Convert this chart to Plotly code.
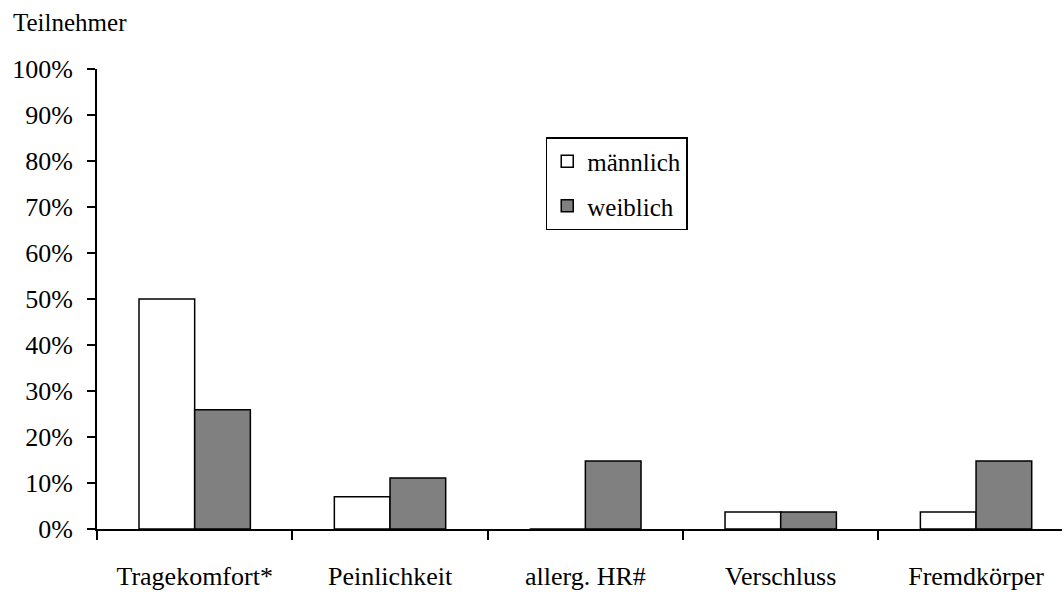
import plotly.graph_objects as go

categories = ["Tragekomfort*", "Peinlichkeit", "allerg. HR#", "Verschluss", "Fremdkörper"]
maennlich = [50.0, 7.0, 0.0, 3.7, 3.7]
weiblich = [25.9, 11.1, 14.8, 3.7, 14.8]
y_ticks = list(range(0, 101, 10))
y_ticktext = [f"{v}%" for v in y_ticks]

FONT = "Liberation Serif"

fig = go.Figure()
fig.add_trace(go.Bar(
    x=categories, y=maennlich, name="männlich", legendgroup="m",
    marker=dict(color="white", line=dict(color="black", width=1.5)),
))
fig.add_trace(go.Bar(
    x=categories, y=weiblich, name="weiblich", legendgroup="w",
    marker=dict(color="#808080", line=dict(color="black", width=1.5)),
))

fig.update_layout(
    width=1064, height=592,
    margin=dict(l=97, r=2, t=69, b=63, autoexpand=False),
    paper_bgcolor="white", plot_bgcolor="white",
    font=dict(family=FONT, size=26, color="black"),
    barmode="group", bargap=0.43, bargroupgap=0,
    showlegend=True,
    legend=dict(
        x=0.465, y=0.852, xanchor="left", yanchor="top",
        bgcolor="white", bordercolor="black", borderwidth=1.5,
        traceorder="grouped", tracegroupgap=9,
        font=dict(family=FONT, size=25),
    ),
    title=dict(
        text="Teilnehmer", x=13/1064, y=1-22/592, xref="container", yref="container",
        xanchor="left", yanchor="middle", font=dict(family=FONT, size=25),
    ),
    xaxis=dict(
        type="category", range=[-0.5, 4.44], automargin=False,
        showline=True, linecolor="black", linewidth=2,
        ticks="outside", tickson="boundaries", ticklen=9, tickwidth=2, tickcolor="black",
        ticklabelstandoff=23, showgrid=False,
    ),
    yaxis=dict(
        range=[0, 100], tickvals=y_ticks, ticktext=y_ticktext, automargin=False,
        showline=True, linecolor="black", linewidth=2,
        ticks="outside", ticklen=8, tickwidth=2, tickcolor="black",
        ticklabelstandoff=9, showgrid=False, zeroline=False,
    ),
)

fig.write_html(
    "out.html",
    config={"displayModeBar": False},
    post_script="document.body.style.margin='0';",
)
